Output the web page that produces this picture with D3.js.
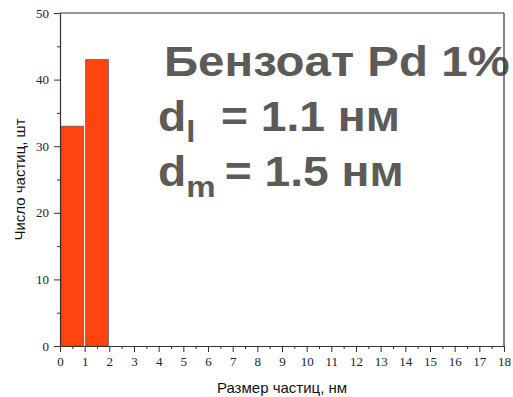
<!DOCTYPE html>
<html>
<head>
<meta charset="utf-8">
<script src="https://cdn.jsdelivr.net/npm/d3@7"></script>
<style>
  html, body { margin: 0; padding: 0; background: #fff; }
  svg { display: block; }
</style>
</head>
<body>
<svg id="chart" width="513" height="397"></svg>
<script>
// Particle size histogram: bins of 1 nm
const binStarts = [0, 1];
const binCounts = [33, 43];
const xTicks = d3.range(0, 19);
const yTicks = [0, 10, 20, 30, 40, 50];
const titleLines = ["Бензоат Pd 1%"];
const dlValue = "1.1 нм";
const dmValue = "1.5 нм";

const svg = d3.select("#chart");
const m = { left: 60, right: 9, top: 13, bottom: 51 };
const W = 513, H = 397;
const x = d3.scaleLinear().domain([0, 18]).range([m.left, W - m.right]);
const y = d3.scaleLinear().domain([0, 50]).range([H - m.bottom, m.top]);

const axisColor = "#333";
const serif = "'Liberation Serif', 'Times New Roman', 'DejaVu Serif', serif";

// bars
svg.append("g").selectAll("rect").data(binStarts).join("rect")
  .attr("x", (d) => x(d) + 1)
  .attr("width", (d) => x(d + 1) - x(d) - 2)
  .attr("y", (d, i) => y(binCounts[i]))
  .attr("height", (d, i) => y(0) - y(binCounts[i]))
  .attr("fill", "#ff440f")
  .attr("stroke", "#6a5a55")
  .attr("stroke-width", 0.8);

// frame (top)
svg.append("line").attr("x1", x(0)).attr("x2", x(18)).attr("y1", y(50)).attr("y2", y(50))
  .attr("stroke", axisColor).attr("stroke-width", 1.2);

// x axis with major and minor ticks
svg.append("g").attr("transform", `translate(0,${y(0)})`)
  .call(d3.axisBottom(x).tickValues(xTicks).tickSize(6).tickSizeOuter(0).tickPadding(5).tickFormat(d3.format("d")))
  .attr("font-family", serif).attr("font-size", 13);
svg.append("g").attr("transform", `translate(0,${y(0)})`)
  .call(d3.axisBottom(x).tickValues(d3.range(0.5, 18, 1)).tickSize(3).tickFormat(""))
  .call((g) => g.select(".domain").remove());

// y axis with major and minor ticks
svg.append("g").attr("transform", `translate(${x(0)},0)`)
  .call(d3.axisLeft(y).tickValues(yTicks).tickSize(6).tickSizeOuter(0).tickPadding(5))
  .attr("font-family", serif).attr("font-size", 13);
svg.append("g").attr("transform", `translate(${x(0)},0)`)
  .call(d3.axisLeft(y).tickValues([5, 15, 25, 35, 45]).tickSize(3).tickFormat(""))
  .call((g) => g.select(".domain").remove());

svg.selectAll(".domain").attr("stroke", axisColor).attr("stroke-width", 1.2);
svg.selectAll(".tick line").attr("stroke", axisColor).attr("stroke-width", 1);
svg.selectAll(".tick text")
  .style("font-family", serif)
  .attr("fill", "#222");

// axis titles
svg.append("text")
  .attr("x", (x(0) + x(18)) / 2).attr("y", 393)
  .attr("text-anchor", "middle")
  .attr("font-family", "'Liberation Sans', Arial, sans-serif")
  .attr("font-size", 15).attr("fill", "#111")
  .text("Размер частиц, нм");

svg.append("text")
  .attr("transform", `translate(25,${(y(0) + y(50)) / 2}) rotate(-90)`)
  .attr("text-anchor", "middle")
  .attr("font-family", "'Liberation Sans', Arial, sans-serif")
  .attr("font-size", 15).attr("fill", "#111")
  .text("Число частиц, шт");

// annotation block, slightly widened lettering
const annFont = (g) => g
  .attr("font-family", "'Liberation Sans', Arial, sans-serif")
  .attr("font-weight", "bold")
  .attr("fill", "#5e5a58");

svg.append("g").attr("transform", "translate(164,0) scale(1.13,1)").call(annFont)
  .append("text").attr("x", 0).attr("y", 76).attr("font-size", 42).text(titleLines[0]);

const ann2 = svg.append("g").attr("transform", "translate(158,0) scale(1.1,1)").call(annFont);

const l2 = ann2.append("text").attr("x", 0).attr("y", 131).attr("font-size", 42);
l2.append("tspan").text("d");
l2.append("tspan").attr("font-size", 30).attr("dy", 11).text("l");
l2.append("tspan").attr("dy", -11).text("\u00a0\u00a0= " + dlValue);

const l3 = ann2.append("text").attr("x", 0).attr("y", 186).attr("font-size", 42);
l3.append("tspan").text("d");
l3.append("tspan").attr("font-size", 30).attr("dy", 11).text("m");
l3.append("tspan").attr("dy", -11).text("\u2009= " + dmValue);

// right frame line, over the annotation
svg.append("line").attr("x1", x(18)).attr("x2", x(18)).attr("y1", y(50)).attr("y2", y(0))
  .attr("stroke", axisColor).attr("stroke-width", 1.2);
</script>
</body>
</html>
